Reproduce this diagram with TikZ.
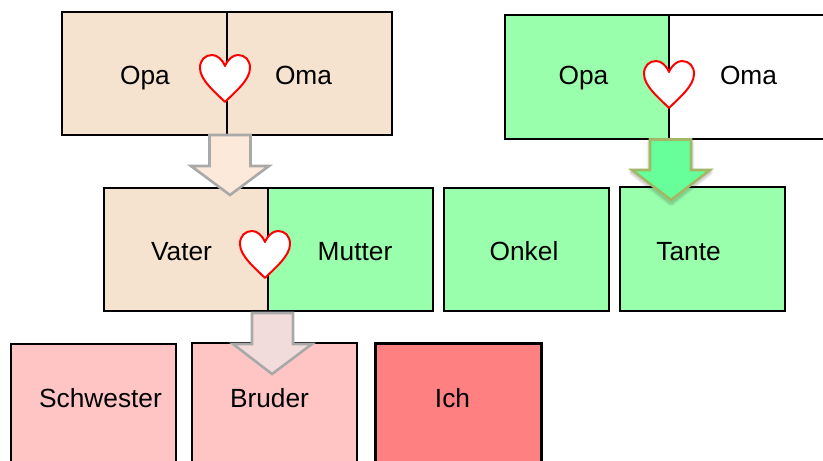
\documentclass[tikz,border=0pt]{standalone}
\usepackage{fontspec}
\setmainfont{Liberation Sans}
\tikzset{
  x=1pt,y=-1pt,
  boxframe/.style={draw=black,line width=1.5pt,anchor=north west,inner sep=0pt,outer sep=0pt},
  thickframe/.style={boxframe,line width=3pt},
  boxlabel/.style={font=\fontsize{26.3}{30}\selectfont,text=black,inner sep=0pt,anchor=base},
  heartline/.style={draw=red,fill=white,line width=2pt,line join=round},
  greyarrow/.style={draw=arrowgrey,line width=2.6pt,line join=miter},
  greenarrow/.style={draw=arrowolive,fill=arrowgreen,line width=2.6pt,line join=miter},
}
\definecolor{tan}{HTML}{F5E3CF}
\definecolor{boxgreen}{HTML}{99FFAD}
\definecolor{boxpink}{HTML}{FFC5C5}
\definecolor{boxred}{HTML}{FF8080}
\definecolor{arrowgrey}{HTML}{A9A9A9}
\definecolor{arrowgreen}{HTML}{66FF99}
\definecolor{arrowolive}{HTML}{A3B765}
\definecolor{arrowtan}{HTML}{FCE9DA}
\definecolor{arrowrose}{HTML}{F2DCDB}
% name, x0, y0, x1, y1, colour, frame style
\newcommand{\famBox}[7]{%
  \fill[white] (#2,#3) rectangle (#4,#5);
  \fill[#6,rounded corners=4pt] (#2,#3) rectangle (#4,#5);
  \node[#7,minimum width={(#4)-(#2)},minimum height={(#5)-(#3)}] (#1) at (#2,#3) {};
}
% name, notch x, notch y
\newcommand{\famHeart}[3]{%
  \path[heartline] (#2,#3)
    .. controls (#2+3,#3-7) and (#2+8,#3-11) .. (#2+13,#3-11)
    .. controls (#2+20,#3-11) and (#2+25,#3-6) .. (#2+25,#3+2)
    .. controls (#2+25,#3+14) and (#2+10,#3+26) .. (#2,#3+36)
    .. controls (#2-10,#3+26) and (#2-25,#3+14) .. (#2-25,#3+2)
    .. controls (#2-25,#3-6) and (#2-20,#3-11) .. (#2-13,#3-11)
    .. controls (#2-8,#3-11) and (#2-3,#3-7) .. (#2,#3) -- cycle;
  \coordinate (#1) at (#2,#3);
}
\begin{document}
\begin{tikzpicture}
\useasboundingbox (0,0) rectangle (823,461);
\clip (0,0) rectangle (823,461);
\fill[white] (0,0) rectangle (823,461);

\famBox{opaA}{62}{12}{227}{135}{tan}{boxframe}
\famBox{omaA}{227}{12}{392}{135}{tan}{boxframe}
\famBox{opaB}{505}{15}{669}{139}{boxgreen}{boxframe}
\famBox{omaB}{669}{15}{840}{139}{white}{boxframe}
\famBox{vater}{104}{188}{268}{311}{tan}{boxframe}
\famBox{mutter}{268}{188}{433}{311}{boxgreen}{boxframe}
\famBox{onkel}{444}{188}{609}{311}{boxgreen}{boxframe}
\famBox{tante}{620}{187}{785}{311}{boxgreen}{boxframe}
\famBox{schwester}{11}{344}{176}{480}{boxpink}{boxframe}
\famBox{bruder}{192}{343}{357}{480}{boxpink}{boxframe}
\famBox{ich}{375}{343}{541}{480}{boxred}{thickframe}

\node[boxlabel] (tOpaA) at (145,84) {Opa};
\node[boxlabel] (tOmaA) at (303.5,84) {Oma};
\node[boxlabel] (tOpaB) at (583.5,84) {Opa};
\node[boxlabel] (tOmaB) at (748.5,84) {Oma};
\node[boxlabel] (tVater) at (181.5,260) {Vater};
\node[boxlabel] (tMutter) at (355,260) {Mutter};
\node[boxlabel] (tOnkel) at (524,260) {Onkel};
\node[boxlabel] (tTante) at (688.5,260) {Tante};
\node[boxlabel] (tSchwester) at (100.5,407) {Schwester};
\node[boxlabel] (tBruder) at (269.5,407) {Bruder};
\node[boxlabel] (tIch) at (452.5,407) {Ich};

\famHeart{heartA}{225}{66}
\famHeart{heartB}{669}{72}
\famHeart{heartC}{265}{242}

% block arrows
\draw[greyarrow,fill=arrowtan] (209.5,135) -- (250.5,135) -- (250.5,166) -- (269,166) -- (230,195) -- (191,166) -- (209.5,166) -- cycle;
\foreach \w/\o in {7/0.04,5/0.06,3/0.08}{
  \draw[black,opacity=\o,line width=\w pt,line join=round] (650,142) -- (691,142) -- (691,172) -- (710,172) -- (671,203) -- (632,172) -- (650,172) -- cycle;
}
\draw[greenarrow] (650,139.5) -- (691,139.5) -- (691,170) -- (710,170) -- (671,200) -- (632,170) -- (650,170) -- cycle;
\draw[greyarrow,fill=arrowrose] (252,313) -- (293,313) -- (293,344) -- (312,344) -- (272,374) -- (233,344) -- (252,344) -- cycle;
\end{tikzpicture}
\end{document}
